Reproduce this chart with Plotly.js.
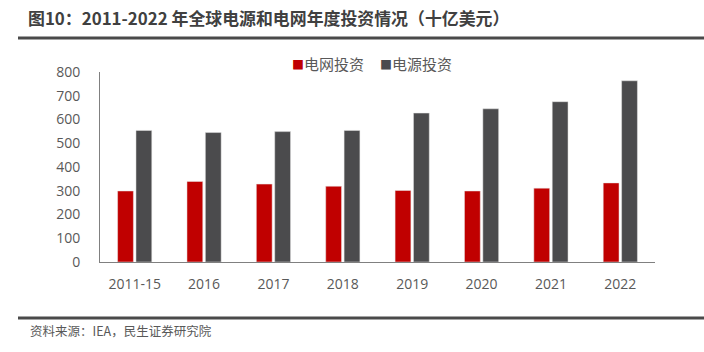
<!DOCTYPE html>
<html><head><meta charset="utf-8">
<script src="https://cdn.plot.ly/plotly-3.0.1.min.js"></script>
<style>html,body{margin:0;padding:0;background:#fff;}#chart{width:704px;height:352px;}</style>
</head><body><div id="chart"></div>
<script>
const categories = ["2011-15","2016","2017","2018","2019","2020","2021","2022"];
const gridInvest = [299, 339, 328, 319, 301, 299, 311, 333];
const powerInvest = [554, 545, 549, 554, 627, 645, 675, 763];
const yTicks = [0,100,200,300,400,500,600,700,800];
const seriesNames = ["电网投资","电源投资"];
const seriesColors = ["#C00000","#4B4B4D"];
const titleText = "图10：2011-2022 年全球电源和电网年度投资情况（十亿美元）";
const sourceText = "资料来源：IEA，民生证券研究院";

const F = '"Noto Sans CJK SC", "Noto Sans", sans-serif';
const FL = '"Open Sans", "Noto Sans CJK SC", sans-serif';
const data = [
  {type:'bar', name:seriesNames[0], x:categories, y:gridInvest, marker:{color:seriesColors[0], line:{color:'#e6e6e6', width:0.5}}},
  {type:'bar', name:seriesNames[1], x:categories, y:powerInvest, marker:{color:seriesColors[1], line:{color:'#e6e6e6', width:0.5}}}
];
const legendX = [(290-100)/555, (378-100)/555];
const legendAnn = seriesNames.map((n,i)=>({
  text:'<span style="color:'+seriesColors[i]+';font-size:12px">■</span>'+n,
  xref:'paper', yref:'paper', x:legendX[i], xanchor:'left', y:(262-63)/190, yanchor:'middle',
  showarrow:false, font:{family:F, size:15, color:'#595959'}
}));
const layout = {
  width:704, height:352,
  margin:{l:100, r:49, t:72, b:90},
  paper_bgcolor:'#fff', plot_bgcolor:'#fff',
  barmode:'group', bargap:0.47, bargroupgap:0.14,
  font:{family:FL, color:'#595959', size:14},
  title:{text:'<b>'+titleText+'</b>', xref:'container', yref:'container', x:28/704, xanchor:'left', y:1-19/352, yanchor:'middle', font:{family:F, size:16.9, color:'#404040'}},
  showlegend:false,
  xaxis:{type:'category', showline:true, linecolor:'#808080', linewidth:1, ticks:'', showgrid:false, tickfont:{family:FL, size:14, color:'#595959'}, ticklabelstandoff:9, fixedrange:true},
  yaxis:{range:[0,800], tickvals:yTicks, ticktext:yTicks.map(String), showline:true, linecolor:'#808080', linewidth:1, ticks:'', showgrid:false, zeroline:false, tickfont:{family:FL, size:14, color:'#595959'}, ticklabelstandoff:16},
  shapes:[
    {type:'line', xref:'paper', yref:'paper', x0:(18-100)/555, x1:(704-100)/555, y0:(262-38)/190, y1:(262-38)/190, line:{color:'#4a4a4a', width:3}},
    {type:'line', xref:'paper', yref:'paper', x0:(18-100)/555, x1:(704-100)/555, y0:(262-318)/190, y1:(262-318)/190, line:{color:'#4a4a4a', width:3}}
  ],
  annotations:[
    {text:sourceText, xref:'paper', yref:'paper', x:(28-100)/555, xanchor:'left', y:(262-330)/190, yanchor:'middle', showarrow:false, font:{family:F, size:12.5, color:'#595959'}}
  ].concat(legendAnn)
};
Plotly.newPlot('chart', data, layout, {displayModeBar:false, staticPlot:true});
</script></body></html>
